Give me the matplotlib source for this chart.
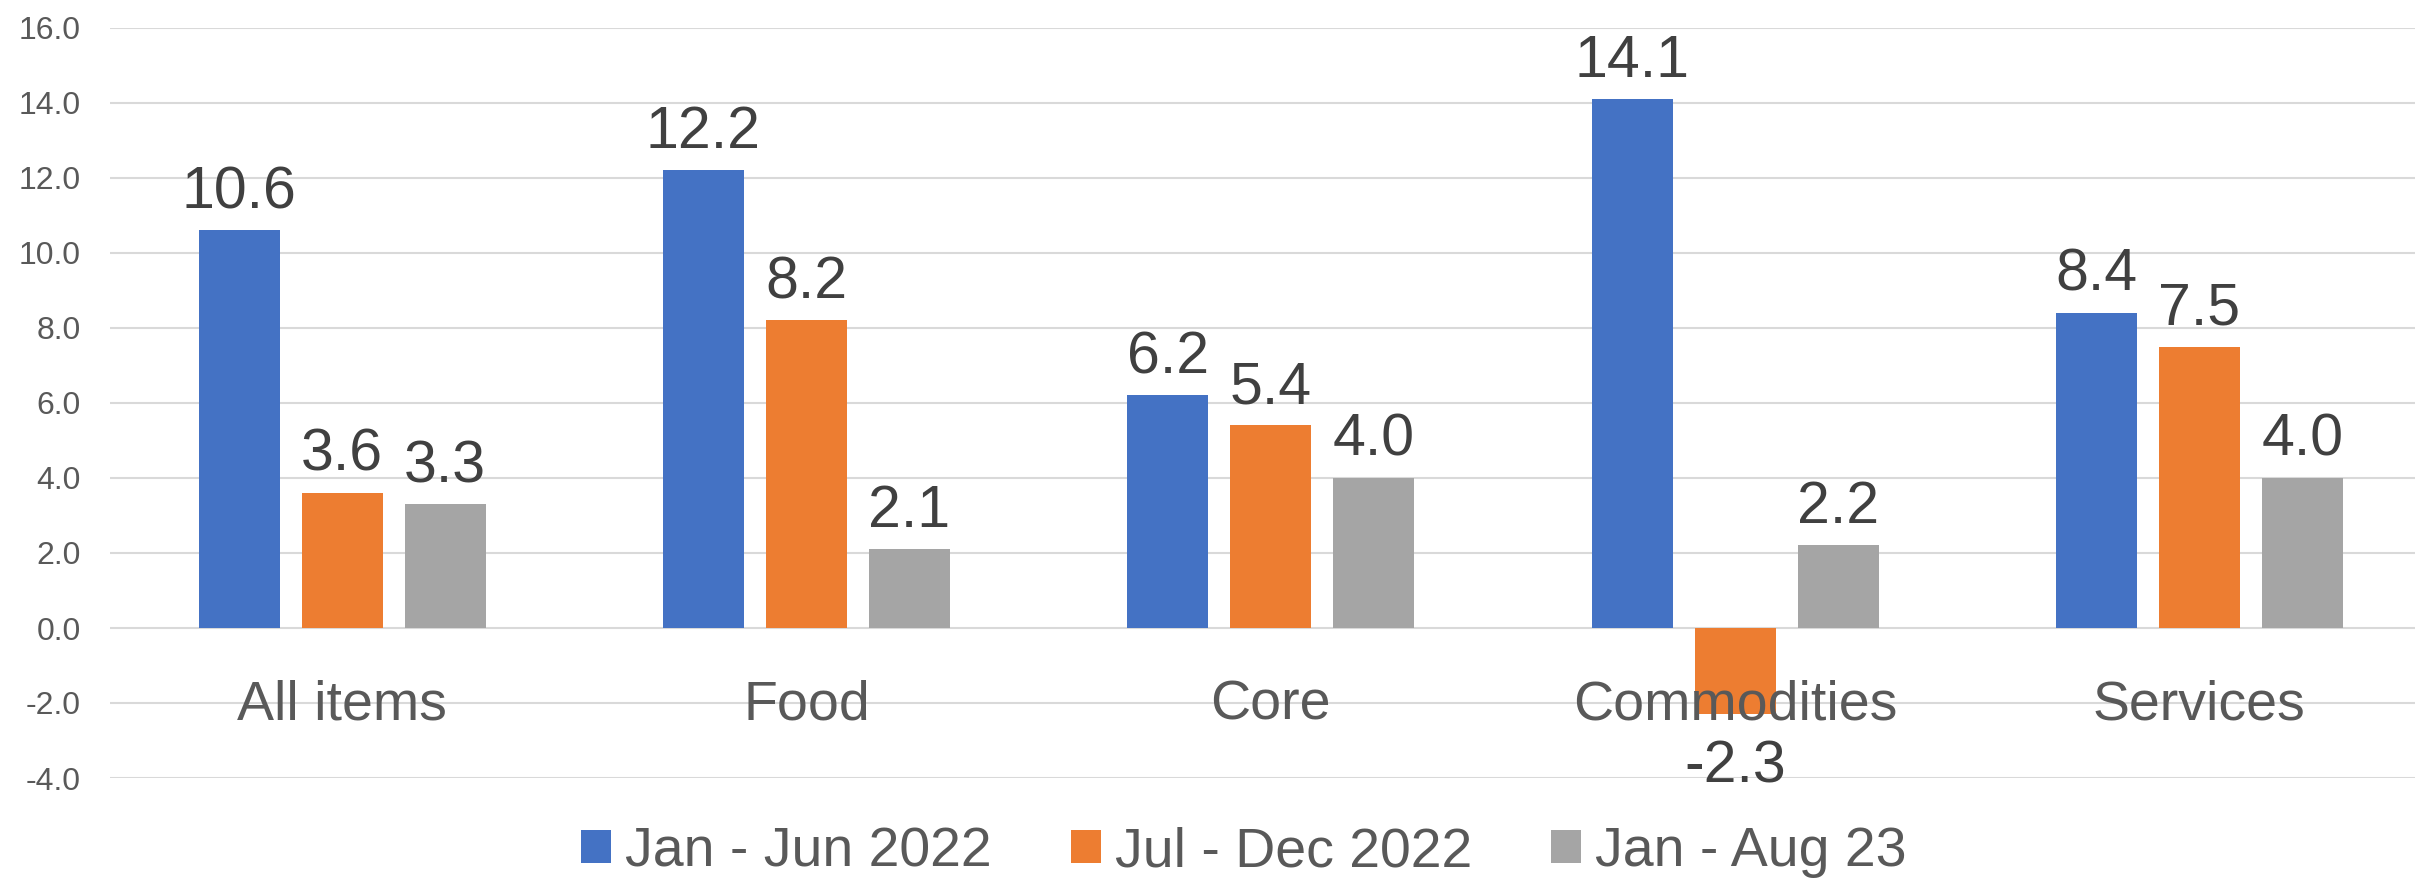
import matplotlib
matplotlib.use("Agg")
import matplotlib.pyplot as plt
from matplotlib.patches import Patch
import numpy as np

plt.rcParams['font.family'] = ['Liberation Sans', 'DejaVu Sans']

categories = ["All items", "Food", "Core", "Commodities", "Services"]
series_names = ["Jan - Jun 2022", "Jul - Dec 2022", "Jan - Aug 23"]
jan_jun_2022 = [10.6, 12.2, 6.2, 14.1, 8.4]
jul_dec_2022 = [3.6, 8.2, 5.4, -2.3, 7.5]
jan_aug_23 = [3.3, 2.1, 4.0, 2.2, 4.0]
yticks = [-4, -2, 0, 2, 4, 6, 8, 10, 12, 14, 16]

colors = ["#4472C4", "#ED7D31", "#A5A5A5"]
series = [jan_jun_2022, jul_dec_2022, jan_aug_23]

fig = plt.figure(figsize=(24.15, 8.8), dpi=100)
ax = fig.add_axes([110/2415, 1-778/880, 1-110/2415, (778-28)/880])

x = np.arange(len(categories))
width = 0.1745
offset = 0.2218
for k, (vals, col) in enumerate(zip(series, colors)):
    pos = x + (k-1)*offset
    ax.bar(pos, vals, width=width, color=col, zorder=3)
    for p, v in zip(pos, vals):
        if v >= 0:
            ax.annotate(f"{v:.1f}", (p, v), xytext=(0, 16), textcoords="offset points",
                        ha="center", va="baseline", fontsize=42.5, color="#404040")
        else:
            ax.annotate(f"{v:.1f}", (p, v), xytext=(0, -49), textcoords="offset points",
                        ha="center", va="baseline", fontsize=42.5, color="#404040")

for i, c in enumerate(categories):
    ax.text(i, -2.43, c, ha="center", va="baseline", fontsize=40, color="#595959", zorder=4)

ax.set_xlim(-0.5, -0.5 + (2415-110)/464.3)
ax.set_ylim(-4, 16)
ax.set_yticks(yticks)
ax.set_yticklabels([f"{t:.1f}" for t in yticks])
ax.tick_params(axis='y', length=0, pad=21, labelsize=23, labelcolor="#595959")
ax.set_xticks([])
ax.grid(axis='y', color="#d9d9d9", linewidth=1.5, zorder=0)
ax.set_axisbelow(True)
for s in ax.spines.values():
    s.set_visible(False)

handles = [Patch(facecolor=c, edgecolor='none') for c in colors]
fig.legend(handles, series_names, loc="center", bbox_to_anchor=(0.515, 1-852/880),
           ncol=3, frameon=False, fontsize=40, labelcolor="#595959",
           handlelength=0.54, handleheight=0.54, handletextpad=0.25, columnspacing=1.42,
           borderaxespad=0, borderpad=0)

fig.savefig("out.png", dpi=100, facecolor="white")
